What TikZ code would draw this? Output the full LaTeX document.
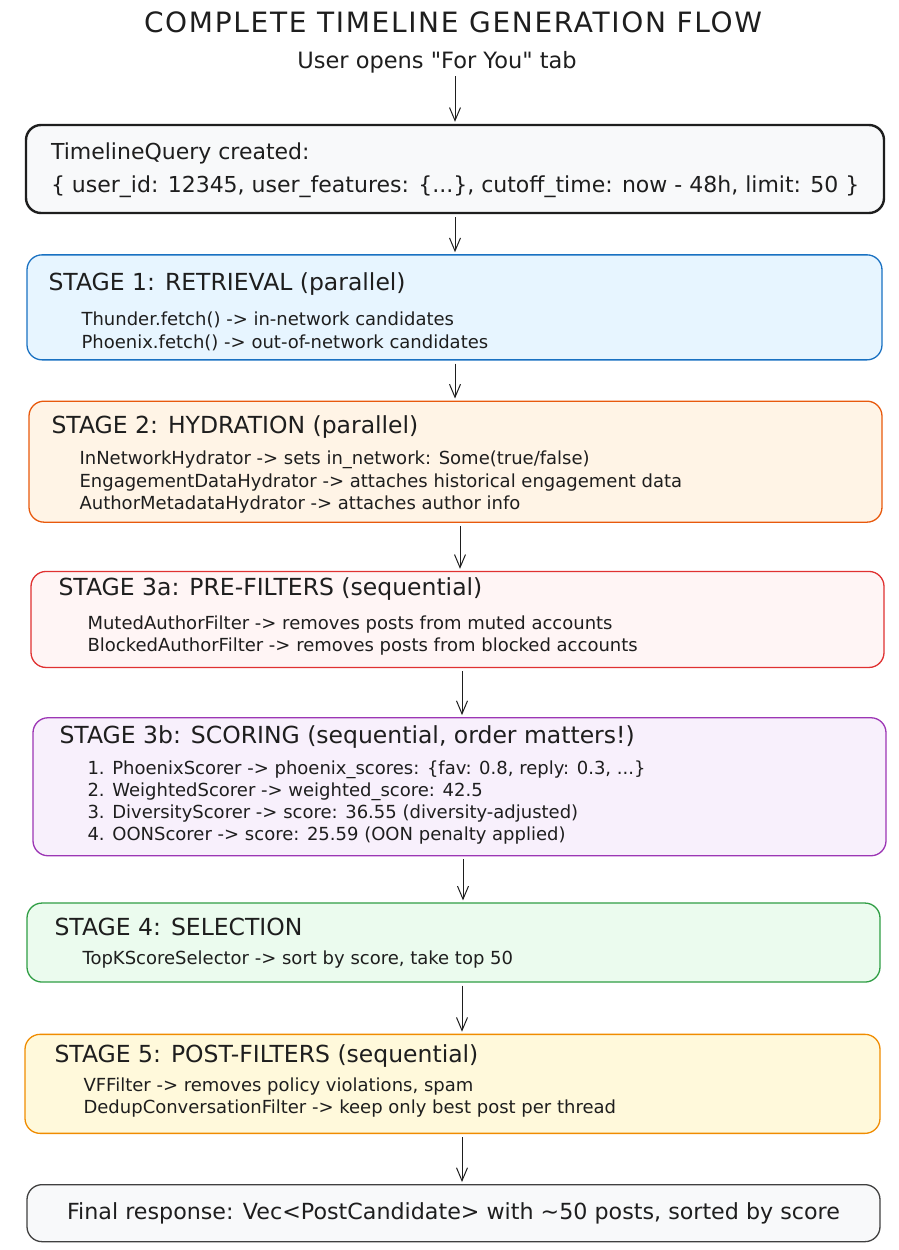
\documentclass[tikz,border=0pt]{standalone}
\usepackage{fontspec}
\setmainfont{DejaVu Sans}[Ligatures=TeXOff]
\usetikzlibrary{arrows.meta,calc,positioning}
\definecolor{ink}{HTML}{1E1E1E}
\definecolor{blue}{HTML}{1971C2}
\definecolor{orange}{HTML}{E8590C}
\definecolor{red}{HTML}{E03131}
\definecolor{violet}{HTML}{9C36B5}
\definecolor{green}{HTML}{2F9E44}
\definecolor{amber}{HTML}{F08C00}
\definecolor{softgray}{HTML}{F8F9FA}
\definecolor{softblue}{HTML}{E7F5FF}
\definecolor{softorange}{HTML}{FFF4E6}
\definecolor{softred}{HTML}{FFF5F5}
\definecolor{softviolet}{HTML}{F8F0FC}
\definecolor{softgreen}{HTML}{EBFBEE}
\definecolor{softamber}{HTML}{FFF9DB}
\tikzset{
  stage/.style={
    draw=ink, rounded corners=15pt, fill=softgray, line width=1.3pt,
    minimum width=853pt, inner sep=0pt
  },
  query/.style={stage, line width=2.4pt},
  retrieval/.style={stage, draw=blue, fill=softblue},
  hydration/.style={stage, draw=orange, fill=softorange},
  prefilter/.style={stage, draw=red, fill=softred},
  scoring/.style={stage, draw=violet, fill=softviolet},
  selection/.style={stage, draw=green, fill=softgreen},
  postfilter/.style={stage, draw=amber, fill=softamber},
  result/.style={stage, draw=ink!85},
  heading/.style={anchor=west, inner sep=0pt, text=ink, font=\fontsize{23.5}{27}\selectfont},
  body/.style={anchor=west, inner sep=0pt, text=ink, align=left, font=\fontsize{18}{22.5}\selectfont},
  flow/.style={-{Straight Barb[length=13pt,width=11pt]}, draw=ink, line width=1pt,
    shorten <=3pt, shorten >=2pt}
}

\begin{document}
\begin{tikzpicture}[x=1pt, y=-1pt]
  \fill[white] (0,0) rectangle (898,1250);
  \useasboundingbox (0,0) rectangle (898,1250);

  \node[font=\fontsize{28}{32}\selectfont\addfontfeature{LetterSpace=6}, text=ink, inner sep=0pt] (title) at (453,22) {COMPLETE TIMELINE GENERATION FLOW};
  \node[font=\fontsize{22.5}{26}\selectfont, text=ink, inner sep=0pt] (opens) at (437,62) {User opens "For You" tab};

  \node[query, minimum width=858pt, minimum height=88pt] (query) at (455,169) {};
  \node[body, font=\fontsize{22}{33}\selectfont] (querytext) at ($(query.north west)+(26,46.5)$) {TimelineQuery created:\\\{ user\_id: 12345, user\_features: \{...\}, cutoff\_time: now - 48h, limit: 50 \}};

  \node[retrieval, minimum width=855pt, minimum height=105pt, below=40pt of query, xshift=-0.5pt] (stage1) {};
  \node[heading] (stage1title) at ($(stage1.north west)+(22,30)$) {STAGE 1: RETRIEVAL (parallel)};
  \node[body] (stage1body) at ($(stage1.north west)+(55,77)$) {Thunder.fetch() -> in-network candidates\\Phoenix.fetch() -> out-of-network candidates};

  \node[hydration, minimum height=121pt, below=40pt of stage1, xshift=1pt] (stage2) {};
  \node[heading] (stage2title) at ($(stage2.north west)+(23,27)$) {STAGE 2: HYDRATION (parallel)};
  \node[body] (stage2body) at ($(stage2.north west)+(51,82)$) {InNetworkHydrator -> sets in\_network: Some(true/false)\\EngagementDataHydrator -> attaches historical engagement data\\AuthorMetadataHydrator -> attaches author info};

  \node[prefilter, minimum height=96pt, below=48pt of stage2, xshift=2pt] (stage3a) {};
  \node[heading] (stage3atitle) at ($(stage3a.north west)+(28,18)$) {STAGE 3a: PRE-FILTERS (sequential)};
  \node[body] (stage3abody) at ($(stage3a.north west)+(57,64.5)$) {MutedAuthorFilter -> removes posts from muted accounts\\BlockedAuthorFilter -> removes posts from blocked accounts};

  \node[scoring, minimum height=138pt, below=49pt of stage3a, xshift=2pt] (stage3b) {};
  \node[heading] (stage3btitle) at ($(stage3b.north west)+(27,20)$) {STAGE 3b: SCORING (sequential, order matters!)};
  \node[body, font=\fontsize{18}{22}\selectfont] (stage3bbody) at ($(stage3b.north west)+(55,85)$) {1. PhoenixScorer -> phoenix\_scores: \{fav: 0.8, reply: 0.3, ...\}\\2. WeightedScorer -> weighted\_score: 42.5\\3. DiversityScorer -> score: 36.55 (diversity-adjusted)\\4. OONScorer -> score: 25.59 (OON penalty applied)};

  \node[selection, minimum height=79pt, below=46pt of stage3b, xshift=-6pt] (stage4) {};
  \node[heading] (stage4title) at ($(stage4.north west)+(28,25)$) {STAGE 4: SELECTION};
  \node[body] (stage4body) at ($(stage4.north west)+(56,57)$) {TopKScoreSelector -> sort by score, take top 50};

  \node[postfilter, minimum width=855pt, minimum height=99pt, below=51pt of stage4, xshift=-1pt] (stage5) {};
  \node[heading] (stage5title) at ($(stage5.north west)+(30,22)$) {STAGE 5: POST-FILTERS (sequential)};
  \node[body, font=\fontsize{18}{22}\selectfont] (stage5body) at ($(stage5.north west)+(59,64)$) {VFFilter -> removes policy violations, spam\\DedupConversationFilter -> keep only best post per thread};

  \node[result, minimum height=57pt, below=50pt of stage5, xshift=1pt] (final) {};
  \node[body, anchor=center, font=\fontsize{22.2}{26}\selectfont] (finaltext) at (final.center) {Final response: Vec<PostCandidate> with \textasciitilde50 posts, sorted by score};

  \draw[flow] (455,0 |- opens.south) -- (455,0 |- query.north);
  \foreach \from/\to/\ax in {query/stage1/455, stage1/stage2/455, stage2/stage3a/460, stage3a/stage3b/462,
                             stage3b/stage4/463, stage4/stage5/462, stage5/final/462} {
    \draw[flow] (\ax,0 |- \from.south) -- (\ax,0 |- \to.north);
  }
\end{tikzpicture}
\end{document}
